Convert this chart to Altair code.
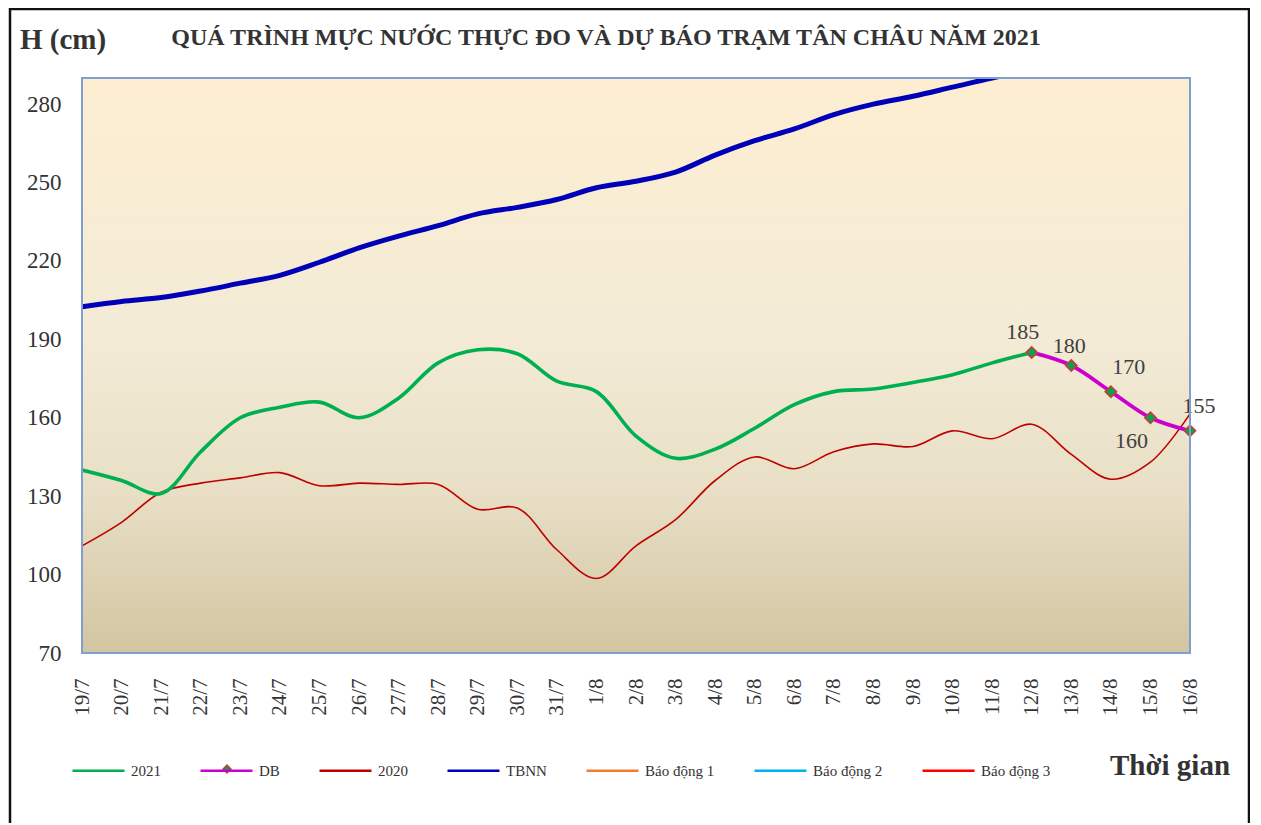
import altair as alt
import pandas as pd

dates = ["19/7", "20/7", "21/7", "22/7", "23/7", "24/7", "25/7", "26/7", "27/7", "28/7",
         "29/7", "30/7", "31/7", "1/8", "2/8", "3/8", "4/8", "5/8", "6/8", "7/8",
         "8/8", "9/8", "10/8", "11/8", "12/8", "13/8", "14/8", "15/8", "16/8"]

h2021 = [140, 136, 131, 147, 160, 164, 166, 160, 167.5, 181, 186, 184.5, 174, 170,
         153, 144.5, 148, 156, 165, 170, 171, 173.5, 176.5, 181, 185]
db_dates = ["12/8", "13/8", "14/8", "15/8", "16/8"]
db = [185, 180, 170, 160, 155]
db_labels = ["185", "180", "170", "160", "155"]
h2020 = [111, 120, 131.5, 135, 137, 139, 134, 135, 134.5, 134.5, 125, 125.5, 109.5, 98.5,
         111, 121, 136, 145, 140.5, 147, 150, 149, 155, 152, 157.5, 146, 136.5, 143, 161.5]
tbnn = [202.5, 204.5, 206, 208.5, 211.5, 214.5, 219.5, 225, 229.5, 233.5, 238, 240.5,
        243.5, 248, 250.5, 254, 260.5, 266, 270.5, 276, 280, 283, 286.5, 290, 293]

series_names = ["2021", "DB", "2020", "TBNN", "Báo động 1", "Báo động 2", "Báo động 3"]
series_colors = ["#00B050", "#CC00CC", "#C00000", "#0000B8", "#ED7D31", "#00B0F0", "#FF0000"]
y_ticks = [70, 100, 130, 160, 190, 220, 250, 280]

TITLE = "QUÁ TRÌNH MỰC NƯỚC THỰC ĐO VÀ DỰ BÁO TRẠM TÂN CHÂU NĂM 2021"
W, H = 1108, 575
SERIF = "Liberation Serif"


def frame(names, vals, series):
    return pd.DataFrame({"date": names[:len(vals)], "value": vals, "series": series})


df2021 = frame(dates, h2021, "2021")
dfdb = pd.DataFrame({"date": db_dates, "value": db, "series": "DB", "label": db_labels})
df2020 = frame(dates, h2020, "2020")
dftb = frame(dates, tbnn, "TBNN")

xenc = alt.X("date:N", scale=alt.Scale(domain=dates, type="point", padding=0),
             axis=alt.Axis(title=None, labelAngle=-90, labelAlign="right", labelBaseline="middle",
                           labelFont=SERIF, labelFontSize=21, labelColor="#333333",
                           labelPadding=25, ticks=False, tickSize=0, domain=False, grid=False,
                           labelOverlap=False))
yenc = alt.Y("value:Q", scale=alt.Scale(domain=[70, 290], nice=False, zero=False),
             axis=alt.Axis(title=None, values=y_ticks, labelFont=SERIF, labelFontSize=23,
                           labelColor="#333333", labelPadding=21, ticks=False, tickSize=0,
                           domain=False, grid=False))

legend = alt.Legend(
    title=None, orient="none", legendX=-11, legendY=665, direction="horizontal",
    symbolType="stroke", symbolSize=2704, symbolStrokeWidth=2.5,
    labelFont=SERIF, labelFontSize=15, labelColor="#333333", labelOffset=5,
    columnPadding=34, padding=0,
)
cenc = alt.Color("series:N", scale=alt.Scale(domain=series_names, range=series_colors), legend=legend)

one = pd.DataFrame({"a": [0]})

bg = alt.Chart(one).mark_rect(
    color=alt.LinearGradient(gradient="linear", x1=0, x2=0, y1=0, y2=1, stops=[
        alt.GradientStop(color="#FDEED1", offset=0),
        alt.GradientStop(color="#F3EBD6", offset=0.45),
        alt.GradientStop(color="#E8DFC6", offset=0.72),
        alt.GradientStop(color="#D3C5A1", offset=1)])
).encode(x=alt.value(0), x2=alt.value(W), y=alt.value(0), y2=alt.value(H))

line2020 = alt.Chart(df2020).mark_line(interpolate="catmull-rom", strokeWidth=1.6, clip=True).encode(
    x=xenc, y=yenc, color=cenc)
linetb = alt.Chart(dftb).mark_line(interpolate="catmull-rom", strokeWidth=5, clip=True).encode(
    x=xenc, y=yenc, color=cenc)
line2021 = alt.Chart(df2021).mark_line(interpolate="catmull-rom", strokeWidth=3.6, clip=True).encode(
    x=xenc, y=yenc, color=cenc)
linedb = alt.Chart(dfdb).mark_line(interpolate="catmull-rom", strokeWidth=3.8, clip=True).encode(
    x=xenc, y=yenc, color=cenc)
ptsdb = alt.Chart(dfdb).mark_point(shape="diamond", filled=True, fill="#00A651", stroke="#B5473A",
                                   strokeWidth=1.8, size=120, opacity=1).encode(x=xenc, y=yenc)

# diamond marker drawn on the DB legend entry
legend_marker = alt.Chart(one).mark_point(shape="diamond", filled=True, fill="#00A651", stroke="#B5473A",
                                          strokeWidth=1.6, size=60, opacity=1).encode(
    x=alt.value(145), y=alt.value(691))

label_offsets = {"185": (-9, -20), "180": (-2, -20), "170": (18, -25), "160": (-19, 23), "155": (9, -25)}
label_layers = []
for lab in db_labels:
    dx, dy = label_offsets[lab]
    label_layers.append(
        alt.Chart(dfdb[dfdb["label"] == lab]).mark_text(
            font=SERIF, fontSize=22, color="#404040", dx=dx, dy=dy, baseline="middle", align="center"
        ).encode(x=xenc, y=yenc, text="label:N"))

border = alt.Chart(one).mark_rect(filled=False, stroke="#7F9FD1", strokeWidth=2).encode(
    x=alt.value(0), x2=alt.value(W), y=alt.value(0), y2=alt.value(H))
outer = alt.Chart(one).mark_rect(filled=False, stroke="#111111", strokeWidth=2.5).encode(
    x=alt.value(-72), x2=alt.value(1167), y=alt.value(-69), y2=alt.value(780))

title = alt.Chart(one).mark_text(font=SERIF, fontSize=24, fontWeight="bold", color="#333333",
                                 align="center", baseline="middle").encode(
    x=alt.value(524), y=alt.value(-40), text=alt.value(TITLE))
ytitle = alt.Chart(one).mark_text(font=SERIF, fontSize=29, fontWeight="bold", color="#333333",
                                  align="left", baseline="middle").encode(
    x=alt.value(-62), y=alt.value(-38), text=alt.value("H (cm)"))
xtitle = alt.Chart(one).mark_text(font=SERIF, fontSize=29, fontWeight="bold", color="#333333",
                                  align="left", baseline="middle").encode(
    x=alt.value(1028), y=alt.value(688), text=alt.value("Thời gian"))

chart = alt.layer(
    bg, line2020, linetb, line2021, linedb, ptsdb, *label_layers, border, outer, legend_marker,
    title, ytitle, xtitle
).properties(
    width=W, height=H, autosize="none",
    padding={"left": 74, "top": 70, "right": 60, "bottom": 170}, background="white"
).configure_view(stroke=None)

chart.save("out.html", embed_options={"renderer": "svg", "actions": False})
